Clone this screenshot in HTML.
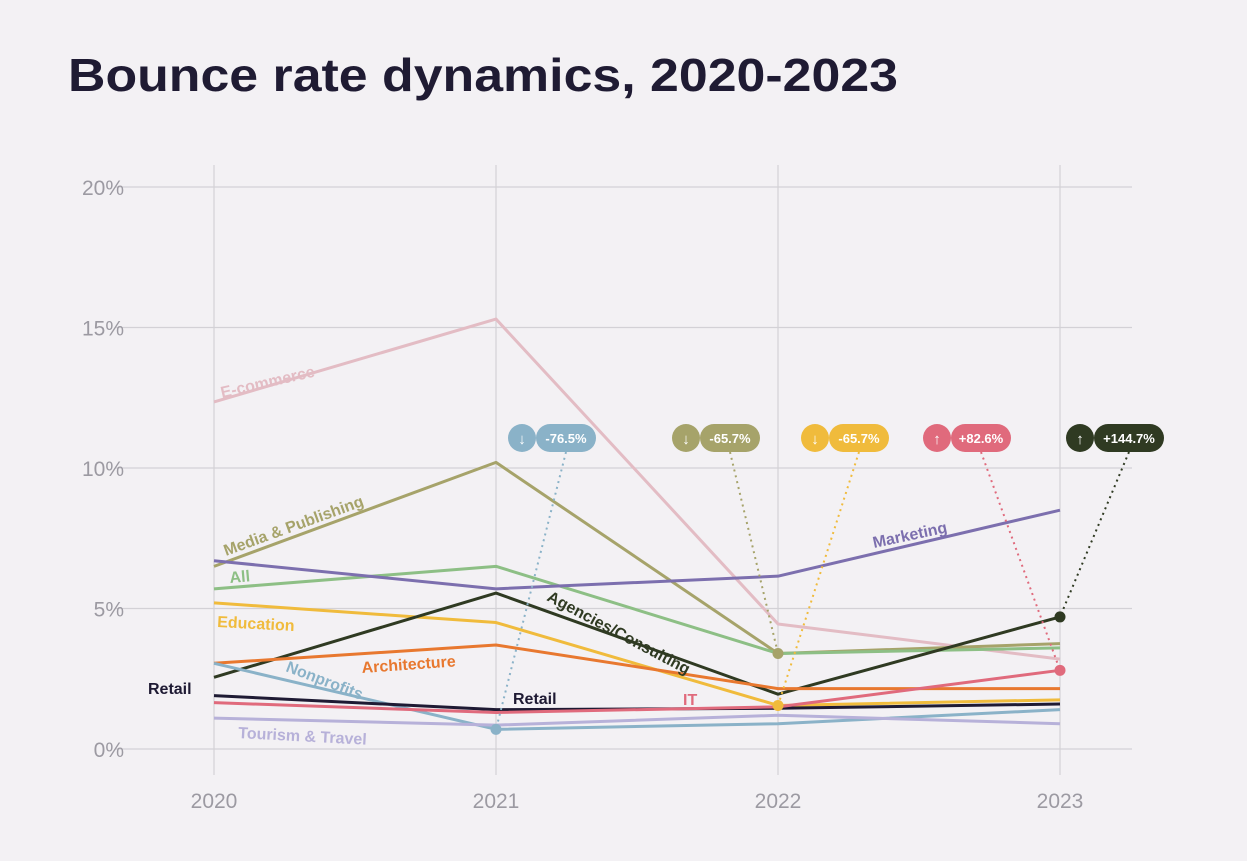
<!DOCTYPE html>
<html><head><meta charset="utf-8"><style>
body{margin:0;background:#f3f1f4;}
svg{display:block;font-family:"Liberation Sans",sans-serif;}
</style></head><body>
<svg id="c" width="1247" height="861" viewBox="0 0 1247 861">
<rect width="1247" height="861" fill="#f3f1f4"/>
<text x="68" y="91" font-size="46" font-weight="bold" fill="#1f1b33" textLength="830" lengthAdjust="spacingAndGlyphs">Bounce rate dynamics, 2020-2023</text>
<g id="grid"></g><g id="lines"></g><g id="ann"></g>
</svg>
<script>
const years=["2020","2021","2022","2023"];
const yTicks=[0,5,10,15,20];
const names=["E-commerce","Media & Publishing","All","Marketing","Education","Agencies/Consulting","Architecture","Nonprofits","Retail","IT","Tourism & Travel"];
const colors=["#e3bcc4","#a6a36a","#8dbf85","#7c6fae","#f0bb3c","#2f3a22","#e8782f","#8ab2c8","#1e1a33","#e06a7c","#b7b1d9"];
const ecommerce=[12.35,15.3,4.45,3.2];
const media=[6.5,10.2,3.4,3.75];
const allS=[5.7,6.5,3.4,3.6];
const marketing=[6.7,5.7,6.15,8.5];
const education=[5.2,4.5,1.55,1.75];
const agencies=[2.55,5.55,1.95,4.7];
const architecture=[3.05,3.7,2.15,2.15];
const nonprofits=[3.05,0.7,0.9,1.4];
const retail=[1.9,1.4,1.45,1.6];
const it=[1.65,1.3,1.5,2.8];
const tourism=[1.1,0.85,1.2,0.9];
const series=[ecommerce,media,allS,marketing,education,agencies,architecture,nonprofits,retail,it,tourism];
const badgeText=["-76.5%","-65.7%","-65.7%","+82.6%","+144.7%"];
const badgeUp=[false,false,false,true,true];
const badgeSeries=[7,1,4,9,5];
const badgeYear=[1,2,2,3,3];
const badgeColors=["#8ab2c8","#a6a36a","#f0bb3c","#e06a7c","#2f3a22"];
const X=i=>214+i*282;
const Y=v=>749-v*28.1;
const NS="http://www.w3.org/2000/svg";
function mk(t,a,p){const e=document.createElementNS(NS,t);for(const k in a)e.setAttribute(k,a[k]);p.appendChild(e);return e;}
const grid=document.getElementById('grid'),lines=document.getElementById('lines'),ann=document.getElementById('ann');
yTicks.forEach(t=>{
 const l=mk('line',{x1:115,x2:1132,y1:Y(t),y2:Y(t),stroke:'#d3d1d6','stroke-width':1.2},grid);
 
 
 const tx=mk('text',{x:124,y:Y(t)+8,'font-size':21,fill:'#9c9aa2','text-anchor':'end'},grid);tx.textContent=t+'%';
 
 
});
years.forEach((y,i)=>{
 const l=mk('line',{x1:X(i),x2:X(i),y1:165,y2:775,stroke:'#d3d1d6','stroke-width':1.2},grid);
 
 
 const tx=mk('text',{x:X(i),y:808,'font-size':21,fill:'#9c9aa2','text-anchor':'middle'},grid);tx.textContent=y;
 
 
});
series.forEach((s,k)=>{
 const p=mk('polyline',{points:s.map((v,i)=>X(i)+','+Y(v)).join(' '),fill:'none',stroke:colors[k],'stroke-width':3,'stroke-linejoin':'round'},lines);
 
 
});
const labels=[[0,222,398,-13,"E-commerce"],[1,226,556,-20,"Media & Publishing"],[2,230,583,-5,"All"],[3,874,548,-12,"Marketing"],[4,217,627,3,"Education"],[5,546,600,28,"Agencies/Consulting"],[6,362,673,-4,"Architecture"],[7,285,671,21,"Nonprofits"],[8,148,694,0,"Retail"],[8,513,704,0,"Retail"],[9,683,705,0,"IT"],[10,238,738,3,"Tourism & Travel"]];
labels.forEach(l=>{
 const t=mk('text',{x:l[1],y:l[2],'font-size':16,'font-weight':'bold',fill:colors[l[0]],transform:`rotate(${l[3]} ${l[1]} ${l[2]})`},lines);
 t.textContent=l[4];
 
 
});
const bx=[522,686,815,937,1080];
badgeText.forEach((t,i)=>{
 const c=badgeColors[i],px=X(badgeYear[i]),py=Y(series[badgeSeries[i]][badgeYear[i]]);
 const w=t.length*10,cx=bx[i];
 const g=mk('g',{},ann);
 
 
 mk('line',{x1:cx+14+w/2,y1:452,x2:px,y2:py,stroke:c,'stroke-width':2,'stroke-dasharray':'2 4'},g);
 mk('circle',{cx:cx,cy:438,r:14,fill:c},g);
 mk('rect',{x:cx+14,y:424,width:w,height:28,rx:14,fill:c},g);
 const a=mk('text',{x:cx,y:444,'font-size':15,'font-weight':'bold',fill:'#fff','text-anchor':'middle'},g);a.textContent=badgeUp[i]?'↑':'↓';
 const tt=mk('text',{x:cx+14+w/2,y:443,'font-size':13,'font-weight':'bold',fill:'#fff','text-anchor':'middle'},g);tt.textContent=t;
 mk('circle',{cx:px,cy:py,r:5.5,fill:c},g);
});
</script>
</body></html>
